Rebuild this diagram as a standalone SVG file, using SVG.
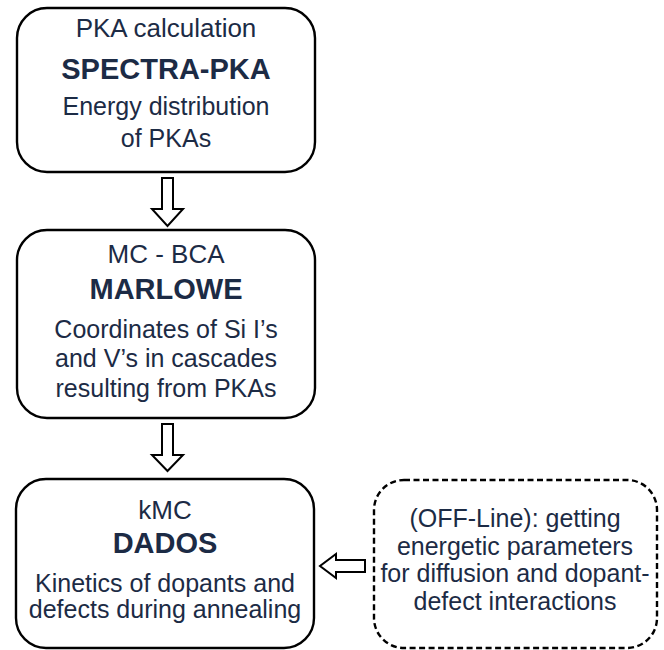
<svg xmlns="http://www.w3.org/2000/svg" width="664" height="650" viewBox="0 0 664 650">
<style>
.box{fill:#fff;stroke:#000;stroke-width:2.4}
.dash{fill:#fff;stroke:#000;stroke-width:2.4;stroke-dasharray:6 3.5}
.arr{fill:#fff;stroke:#000;stroke-width:2;stroke-linejoin:miter}
text{font-family:"Liberation Sans",Arial,sans-serif;fill:#1c2b45;text-anchor:middle}
.n{font-size:25px}
.t{font-size:26px}
.b{font-size:29px;font-weight:bold}
</style>
<rect width="664" height="650" fill="#fff"/>
<g id="spectra">
<rect class="box" x="17" y="8" width="298" height="164" rx="30"/>
<text class="t" x="166" y="37">PKA calculation</text>
<text class="b" x="166" y="79">SPECTRA-PKA</text>
<text class="n" x="166" y="115">Energy distribution</text>
<text class="n" x="166" y="147">of PKAs</text>
</g>
<g id="marlowe">
<rect class="box" x="17" y="230" width="298" height="188" rx="30"/>
<text class="t" x="166" y="263">MC - BCA</text>
<text class="b" x="166" y="299">MARLOWE</text>
<text class="n" x="166" y="338">Coordinates of Si I’s</text>
<text class="n" x="166" y="367">and V’s in cascades</text>
<text class="n" x="166" y="397">resulting from PKAs</text>
</g>
<g id="dados">
<rect class="box" x="16" y="479" width="298" height="169" rx="30"/>
<text class="t" x="165" y="519">kMC</text>
<text class="b" x="165" y="553">DADOS</text>
<text class="n" x="165" y="592">Kinetics of dopants and</text>
<text class="n" x="165" y="618">defects during annealing</text>
</g>
<g id="offline">
<rect class="dash" x="374" y="480" width="283" height="168" rx="30"/>
<text class="n" x="515" y="527">(OFF-Line): getting</text>
<text class="n" x="515" y="555">energetic parameters</text>
<text class="n" x="515" y="582">for diffusion and dopant-</text>
<text class="n" x="515" y="610">defect interactions</text>
</g>
<g id="connectors">
<path class="arr" d="M162,178 H173 V209 H183 L167.5,226 L152,209 H162 Z"/>
<path class="arr" d="M162,424 H173 V455 H183 L167.5,471 L152,455 H162 Z"/>
<path class="arr" d="M365,560 V572 H336 V578 L320,566 L336,554 V560 Z"/>
</g>
</svg>
